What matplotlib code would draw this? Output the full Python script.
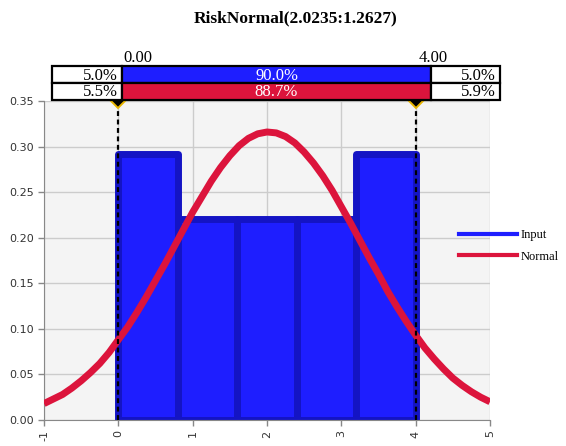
import matplotlib.pyplot as plt
import matplotlib.patches as patches
from matplotlib.lines import Line2D

# figure size in pixels
W, H = 566, 446

# histogram of the input (density)
bin_edges = [0.0, 0.8, 1.6, 2.4, 3.2, 4.0]
bin_density = [0.292, 0.220, 0.220, 0.220, 0.292]

# fitted normal curve
curve_x = [-1.0, -0.875, -0.75, -0.625, -0.5, -0.375, -0.25, -0.125,
           0.0, 0.125, 0.25, 0.375, 0.5, 0.625, 0.75, 0.875,
           1.0, 1.125, 1.25, 1.375, 1.5, 1.625, 1.75, 1.875,
           2.0, 2.125, 2.25, 2.375, 2.5, 2.625, 2.75, 2.875,
           3.0, 3.125, 3.25, 3.375, 3.5, 3.625, 3.75, 3.875,
           4.0, 4.125, 4.25, 4.375, 4.5, 4.625, 4.75, 4.875, 5.0]
curve_y = [0.018, 0.023, 0.028, 0.035, 0.043, 0.052, 0.062, 0.074,
           0.088, 0.102, 0.118, 0.135, 0.153, 0.171, 0.190, 0.209,
           0.228, 0.245, 0.262, 0.277, 0.290, 0.301, 0.309, 0.314,
           0.316, 0.315, 0.311, 0.304, 0.294, 0.282, 0.268, 0.252,
           0.234, 0.216, 0.197, 0.178, 0.160, 0.141, 0.124, 0.108,
           0.093, 0.079, 0.067, 0.056, 0.046, 0.038, 0.031, 0.025, 0.020]

# delimiters and percentages shown in the band above the plot
delims = [0.0, 4.0]
delim_labels = ["0.00", "4.00"]
input_pcts = ["5.0%", "90.0%", "5.0%"]
normal_pcts = ["5.5%", "88.7%", "5.9%"]

x_ticks = [-1, 0, 1, 2, 3, 4, 5]
y_ticks = [0.00, 0.05, 0.10, 0.15, 0.20, 0.25, 0.30, 0.35]

BLUE = '#1e1eff'
BLUE_EDGE = '#1414c4'
RED = '#dc143c'
SERIF = 'Liberation Serif'


def fx(px):
    return px / W


def fy(py):
    return 1 - py / H


fig = plt.figure(figsize=(W / 100, H / 100), dpi=100)
ax = fig.add_axes([fx(44), fy(420), fx(490) - fx(44), fy(101) - fy(420)])
ax.set_facecolor('#f4f4f4')

widths = [b - a for a, b in zip(bin_edges[:-1], bin_edges[1:])]
ax.bar(bin_edges[:-1], bin_density, width=widths, align='edge', color=BLUE,
       edgecolor=BLUE_EDGE, linewidth=5, joinstyle='round', zorder=2)

ax.plot(curve_x, curve_y, color=RED, linewidth=5, solid_joinstyle='round',
        solid_capstyle='butt', zorder=3)

ax.vlines(delims, 0, 0.35, colors='black', linestyles=(0, (2.2, 1.6)), linewidth=1.6, zorder=4)
ax.plot(delims, [0.35] * len(delims), 'D', ms=7, mfc='black', mec='#e6b400', mew=1.4,
        clip_on=False, zorder=5)

ax.set_xlim(-1, 5)
ax.set_ylim(0, 0.35)
ax.set_xticks(x_ticks)
ax.set_xticklabels([str(t) for t in x_ticks], rotation=90)
ax.set_yticks(y_ticks)
ax.set_yticklabels(['%.2f' % t for t in y_ticks])
ax.tick_params(labelsize=8, labelcolor='#333333', color='#888888', length=4, width=1)
ax.grid(True, color='#cccccc', linewidth=1)
ax.set_axisbelow(True)
for side in ['top', 'right']:
    ax.spines[side].set_visible(False)
for side in ['left', 'bottom']:
    ax.spines[side].set_color('#888888')

# title
fig.text(fx(296), fy(18), 'RiskNormal(2.0235:1.2627)', ha='center', va='center',
         fontsize=12.5, fontweight='bold', family=SERIF)

# delimiter band
cols = [52, 122, 431, 500]
rows = [66, 83, 100]
band = [(input_pcts, BLUE), (normal_pcts, RED)]
for r, (pcts, mid_color) in enumerate(band):
    top, bot = rows[r], rows[r + 1]
    for c in range(3):
        left, right = cols[c], cols[c + 1]
        face = mid_color if c == 1 else 'white'
        rect = patches.Rectangle((fx(left), fy(bot)), fx(right) - fx(left), fy(top) - fy(bot),
                                 transform=fig.transFigure, facecolor=face, edgecolor='black',
                                 linewidth=1.6, zorder=6)
        fig.patches.append(rect)
        if c == 1:
            tx, ha, color = (left + right) / 2, 'center', 'white'
        else:
            tx, ha, color = right - 4, 'right', 'black'
        fig.text(fx(tx), fy((top + bot) / 2 + 1), pcts[c], ha=ha, va='center',
                 fontsize=12, color=color, family=SERIF, zorder=7)

fig.text(fx(123), fy(58), delim_labels[0], ha='left', va='center', fontsize=12, family=SERIF)
fig.text(fx(419), fy(58), delim_labels[1], ha='left', va='center', fontsize=12, family=SERIF)

# legend
handles = [Line2D([], [], color=BLUE, linewidth=3),
           Line2D([], [], color=RED, linewidth=3)]
leg = fig.legend(handles, ['Input', 'Normal'], loc='center left',
                 bbox_to_anchor=(fx(459), fy(246)), frameon=False, borderpad=0,
                 borderaxespad=0, handlelength=4.6, handletextpad=0.3, labelspacing=0.75,
                 prop={'family': SERIF, 'size': 9})

fig.savefig('out.png', dpi=100)
